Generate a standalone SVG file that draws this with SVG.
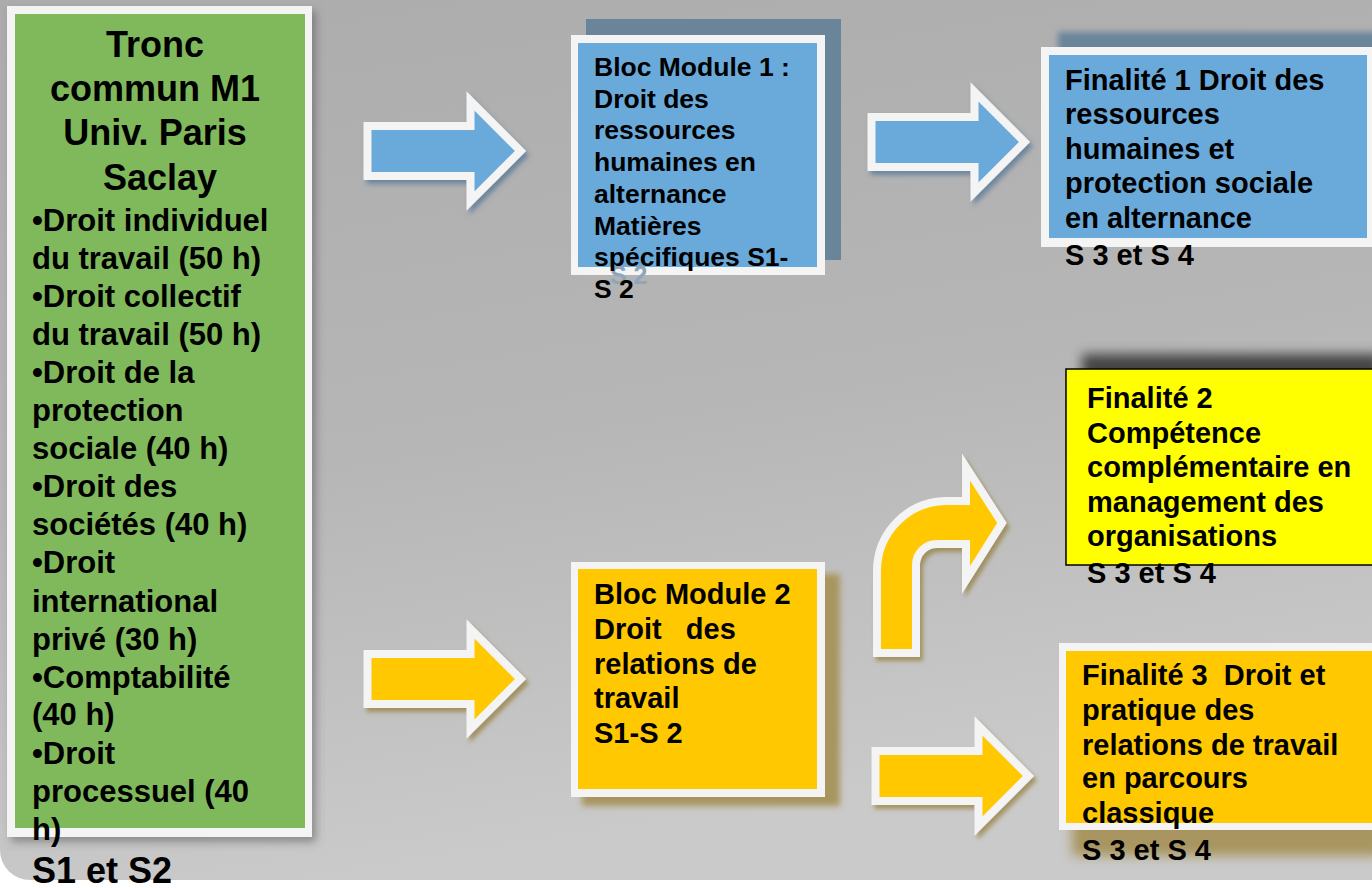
<svg xmlns="http://www.w3.org/2000/svg" width="1372" height="888" viewBox="0 0 1372 888">
<defs>
  <linearGradient id="bg" x1="0" y1="0" x2="0.25" y2="1">
    <stop offset="0" stop-color="#acacac"/>
    <stop offset="0.55" stop-color="#b6b6b6"/>
    <stop offset="1" stop-color="#cacaca"/>
  </linearGradient>
  <filter id="shGray" x="-10%" y="-10%" width="130%" height="130%">
    <feDropShadow dx="4" dy="5" stdDeviation="4" flood-color="#505050" flood-opacity="0.5"/>
  </filter>
  <filter id="shBlue" x="-10%" y="-10%" width="130%" height="130%">
    <feDropShadow dx="3" dy="4" stdDeviation="2.5" flood-color="#3a6890" flood-opacity="0.6"/>
  </filter>
  <filter id="shGold" x="-10%" y="-10%" width="130%" height="130%">
    <feDropShadow dx="3" dy="4" stdDeviation="2" flood-color="#8a7020" flood-opacity="0.6"/>
  </filter>
  <filter id="blur3" x="-20%" y="-20%" width="140%" height="140%">
    <feGaussianBlur stdDeviation="3"/>
  </filter>
  <filter id="blur6" x="-20%" y="-20%" width="140%" height="140%">
    <feGaussianBlur stdDeviation="6"/>
  </filter>
  <path id="straightArrow" d="M367.5,126 H470.5 V101 L520.5,151 L470.5,201 V176 H367.5 Z"/>
</defs>
<style>
  .t { font-family: "Liberation Sans", Arial, sans-serif; font-weight: bold; fill: #000; }
  .frame { fill: #f4f4f4; }
  .blue { fill: #6aaadb; }
  .gold { fill: #ffc800; }
  .arrowBlue { fill: #6aaadb; stroke: #f4f4f4; stroke-width: 8; stroke-linejoin: miter; }
  .arrowGold { fill: #ffc800; stroke: #f4f4f4; stroke-width: 8; stroke-linejoin: miter; }
</style>

<rect width="1372" height="888" fill="#ffffff"/>
<path d="M0,0 H1372 V880 H30 A30,30 0 0 1 0,850 Z" fill="url(#bg)"/>

<g id="connectors">
  <use href="#straightArrow" class="arrowBlue" filter="url(#shBlue)"/>
  <use href="#straightArrow" class="arrowBlue" filter="url(#shBlue)" transform="translate(504,-9)"/>
  <use href="#straightArrow" class="arrowGold" filter="url(#shGold)" transform="translate(0,528)"/>
  <use href="#straightArrow" class="arrowGold" filter="url(#shGold)" transform="translate(508,625)"/>
  <path class="arrowGold" filter="url(#shGold)" d="M877,653 L877,571 A70,70 0 0 1 947,501 L966,501 L966,467 L1002,523 L966,580 L966,544 L937,544 A21,21 0 0 0 916,565 L916,653 Z"/>
</g>

<g id="tronc-commun">
  <rect x="7" y="6" width="305" height="831" class="frame" filter="url(#shGray)"/>
  <rect x="15" y="14" width="290" height="814" fill="#80b95b"/>
  <text class="t" font-size="36" text-anchor="middle">
    <tspan x="160" y="57">Tronc</tspan>
    <tspan x="160" y="101">commun M1</tspan>
    <tspan x="160" y="145">Univ. Paris</tspan>
    <tspan x="160" y="190">Saclay</tspan>
  </text>
  <text class="t" font-size="31">
    <tspan x="32" y="231">•Droit individuel</tspan>
    <tspan x="32" y="269">du travail (50 h)</tspan>
    <tspan x="32" y="307">•Droit collectif</tspan>
    <tspan x="32" y="345">du travail (50 h)</tspan>
    <tspan x="32" y="383">•Droit de la</tspan>
    <tspan x="32" y="421">protection</tspan>
    <tspan x="32" y="459">sociale (40 h)</tspan>
    <tspan x="32" y="497">•Droit des</tspan>
    <tspan x="32" y="535">sociétés (40 h)</tspan>
    <tspan x="32" y="573">•Droit</tspan>
    <tspan x="32" y="612">international</tspan>
    <tspan x="32" y="650">privé (30 h)</tspan>
    <tspan x="32" y="688">•Comptabilité</tspan>
    <tspan x="32" y="725">(40 h)</tspan>
    <tspan x="32" y="764">•Droit</tspan>
    <tspan x="32" y="802">processuel (40</tspan>
    <tspan x="32" y="840">h)</tspan>
  </text>
  <text class="t" font-size="36" x="32" y="883">S1 et S2</text>
</g>

<g id="bloc-module-1">
  <rect x="586" y="19" width="255" height="241" fill="#6a8499"/>
  <rect x="571" y="35" width="254" height="240" class="frame"/>
  <rect x="578" y="43" width="239" height="224" class="blue"/>
  <text class="t" font-size="25" x="610" y="284" fill="#8ea5ba" style="fill:#8ea5ba">S 2</text>
  <text class="t" font-size="26.5">
    <tspan x="594" y="76">Bloc Module 1 :</tspan>
    <tspan x="594" y="107.7">Droit des</tspan>
    <tspan x="594" y="139.4">ressources</tspan>
    <tspan x="594" y="171.1">humaines en</tspan>
    <tspan x="594" y="202.8">alternance</tspan>
    <tspan x="594" y="234.5">Matières</tspan>
    <tspan x="594" y="266.2">spécifiques S1-</tspan>
    <tspan x="594" y="297.9">S 2</tspan>
  </text>
</g>

<g id="finalite-1">
  <rect x="1058" y="32" width="330" height="200" fill="#6a8499" filter="url(#blur3)"/>
  <rect x="1041" y="47" width="340" height="200" class="frame"/>
  <rect x="1049" y="55" width="318" height="183" class="blue"/>
  <text class="t" font-size="29">
    <tspan x="1065" y="90">Finalité 1 Droit des</tspan>
    <tspan x="1065" y="124">ressources</tspan>
    <tspan x="1065" y="158.5">humaines et</tspan>
    <tspan x="1065" y="193">protection sociale</tspan>
    <tspan x="1065" y="227.5">en alternance</tspan>
    <tspan x="1065" y="265">S 3 et S 4</tspan>
  </text>
</g>

<g id="finalite-2">
  <rect x="1082" y="354" width="300" height="200" fill="#444444" filter="url(#blur6)"/>
  <rect x="1066" y="369" width="320" height="196" fill="#ffff00" stroke="#000" stroke-width="1.5"/>
  <text class="t" font-size="29">
    <tspan x="1087" y="408">Finalité 2</tspan>
    <tspan x="1087" y="442.5">Compétence</tspan>
    <tspan x="1087" y="477">complémentaire en</tspan>
    <tspan x="1087" y="511.5">management des</tspan>
    <tspan x="1087" y="546">organisations</tspan>
    <tspan x="1087" y="583">S 3 et S 4</tspan>
  </text>
</g>

<g id="bloc-module-2">
  <rect x="582" y="574" width="258" height="232" fill="#a8955e" filter="url(#blur3)"/>
  <rect x="571" y="562" width="254" height="235" class="frame"/>
  <rect x="578" y="569" width="239" height="220" class="gold"/>
  <text class="t" font-size="29" xml:space="preserve" style="white-space:pre">
    <tspan x="594" y="604">Bloc Module 2</tspan>
    <tspan x="594" y="639">Droit   des</tspan>
    <tspan x="594" y="674">relations de</tspan>
    <tspan x="594" y="708">travail</tspan>
    <tspan x="594" y="743">S1-S 2</tspan>
  </text>
</g>

<g id="finalite-3">
  <rect x="1072" y="656" width="310" height="200" fill="#a8955e" filter="url(#blur6)"/>
  <rect x="1059" y="643" width="320" height="187" class="frame"/>
  <rect x="1066" y="651" width="312" height="172" class="gold"/>
  <text class="t" font-size="29" xml:space="preserve" style="white-space:pre">
    <tspan x="1082" y="685">Finalité 3  Droit et</tspan>
    <tspan x="1082" y="720">pratique des</tspan>
    <tspan x="1082" y="755">relations de travail</tspan>
    <tspan x="1082" y="788">en parcours</tspan>
    <tspan x="1082" y="823">classique</tspan>
    <tspan x="1082" y="860">S 3 et S 4</tspan>
  </text>
</g>
</svg>
